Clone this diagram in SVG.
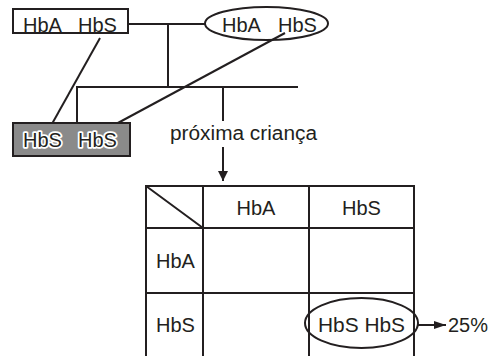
<svg xmlns="http://www.w3.org/2000/svg" width="492" height="356" viewBox="0 0 492 356">
<style>
text{font-family:"Liberation Sans",Arial,sans-serif;font-size:20px;fill:#231f20}
.ln{stroke:#231f20;stroke-width:2;fill:none}
.halo{paint-order:stroke;stroke:#fff;stroke-width:3.5px;stroke-linejoin:round}
</style>
<defs>
<marker id="ah" viewBox="0 0 10 10" refX="10" refY="5" markerWidth="10" markerHeight="10" markerUnits="userSpaceOnUse" orient="auto">
<path d="M0,0 L10,5 L0,10 Z" fill="#231f20"/>
</marker>
<marker id="ah2" viewBox="0 0 12 8" refX="12" refY="4" markerWidth="12" markerHeight="8" markerUnits="userSpaceOnUse" orient="auto">
<path d="M0,0 L12,4 L0,8 Z" fill="#231f20"/>
</marker>
</defs>
<rect width="492" height="356" fill="#fff"/>
<g id="connectors">
<line class="ln" x1="128" y1="24" x2="205" y2="24"/>
<line class="ln" x1="168" y1="24" x2="168" y2="87"/>
<line class="ln" x1="76" y1="87" x2="298" y2="87"/>
<line class="ln" x1="77" y1="87" x2="77" y2="123"/>
<line class="ln" x1="223" y1="87" x2="223" y2="121"/>
<line class="ln" x1="223" y1="147" x2="223" y2="181" marker-end="url(#ah)"/>
<line class="ln" x1="100" y1="38" x2="48" y2="131"/>
<line class="ln" x1="285" y1="33" x2="103" y2="131"/>
<line class="ln" x1="418" y1="325" x2="446" y2="325" marker-end="url(#ah2)"/>
</g>
<g id="father">
<rect class="ln" x="13" y="9" width="115" height="24" fill="#fff"/>
<text y="31.5"><tspan x="23">HbA</tspan><tspan x="78">HbS</tspan></text>
</g>
<g id="mother">
<ellipse class="ln" cx="266.5" cy="23.5" rx="61.5" ry="16.5"/>
<text y="31.5"><tspan x="222">HbA</tspan><tspan x="278">HbS</tspan></text>
</g>
<g id="child">
<rect x="13" y="123" width="117" height="33" fill="#8a8a8a" stroke="#231f20" stroke-width="2"/>
<text class="halo" y="147"><tspan x="23">HbS</tspan><tspan x="78">HbS</tspan></text>
</g>
<g id="label">
<text x="170" y="140" textLength="147" lengthAdjust="spacingAndGlyphs">próxima criança</text>
</g>
<g id="table">
<path class="ln" d="M146,356 V186 H414 V356 M203,186 V356 M309,186 V356 M146,228 H414 M146,293 H414 M146,186 L203,228"/>
<text x="256" y="215" text-anchor="middle">HbA</text>
<text x="361.5" y="215" text-anchor="middle">HbS</text>
<text x="156" y="268">HbA</text>
<text x="156" y="332">HbS</text>
</g>
<g id="result">
<ellipse class="ln" cx="361.5" cy="323" rx="56.5" ry="25"/>
<text x="318" y="332" textLength="87" lengthAdjust="spacingAndGlyphs">HbS HbS</text>
</g>
<g id="percent">
<text x="448" y="332">25%</text>
</g>
</svg>
